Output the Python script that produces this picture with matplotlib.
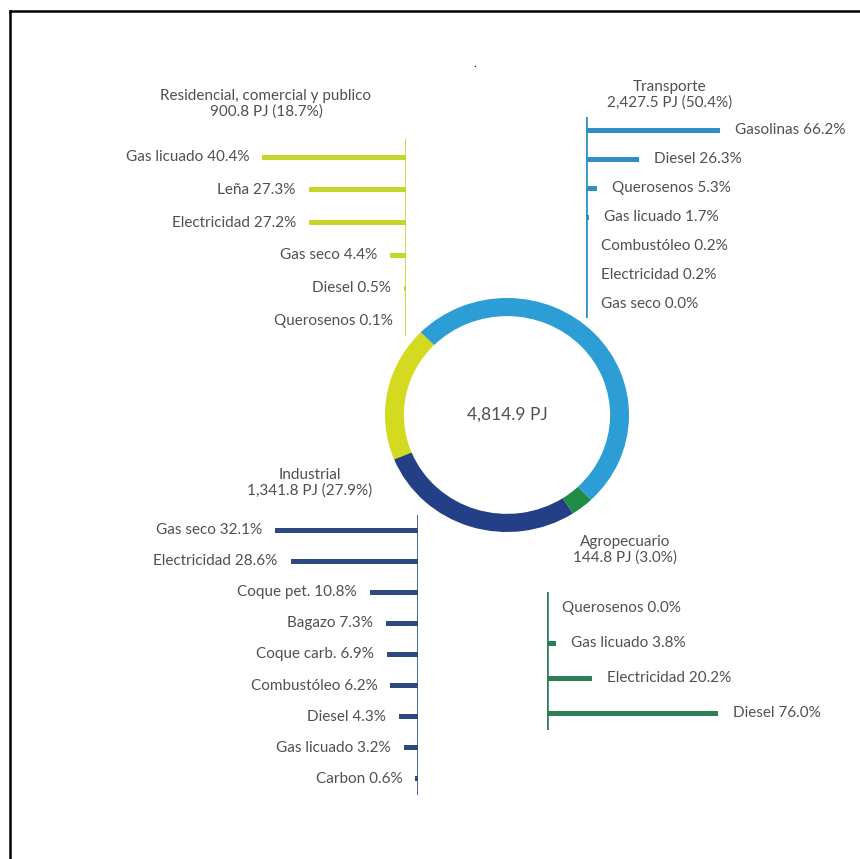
import matplotlib
matplotlib.use('Agg')
import matplotlib.pyplot as plt
from matplotlib.lines import Line2D

W, H = 860, 859

# Consumo final total por sector
total_pj = '4,814.9 PJ'
sectors = ['Residencial', 'Industrial', 'Agropecuario', 'Transporte']
sector_share = [18.7, 27.9, 3.0, 50.4]
ring_colors = ['#d3da1f', '#233f86', '#1f8b45', '#2d9dd5']

res_fuels = ['Gas licuado', 'Leña', 'Electricidad', 'Gas seco', 'Diesel', 'Querosenos']
res_values = [40.4, 27.3, 27.2, 4.4, 0.5, 0.1]

tra_fuels = ['Gasolinas', 'Diesel', 'Querosenos', 'Gas licuado', 'Combustóleo', 'Electricidad', 'Gas seco']
tra_values = [66.2, 26.3, 5.3, 1.7, 0.2, 0.2, 0.0]

ind_fuels = ['Gas seco', 'Electricidad', 'Coque pet.', 'Bagazo', 'Coque carb.', 'Combustóleo',
             'Diesel', 'Gas licuado', 'Carbon']
ind_values = [32.1, 28.6, 10.8, 7.3, 6.9, 6.2, 4.3, 3.2, 0.6]

agr_fuels = ['Querosenos', 'Gas licuado', 'Electricidad', 'Diesel']
agr_values = [0.0, 3.8, 20.2, 76.0]

TEXT = '#505050'
FS = 11
plt.rcParams['font.family'] = ['Lato', 'DejaVu Sans']


def px_box(x0, y0, x1, y1):
    # pixel box (top-left origin) -> figure fraction rect
    return [x0 / W, 1 - y1 / H, (x1 - x0) / W, (y1 - y0) / H]


def fuel_panel(fig, names, values, color, axis_x, side, ppp, row0, row_step, top, bottom):
    span = 220
    if side == 'left':
        ax = fig.add_axes(px_box(axis_x - span, top, axis_x, bottom))
        ax.set_xlim(span / ppp, 0)
    else:
        ax = fig.add_axes(px_box(axis_x, top, axis_x + span, bottom))
        ax.set_xlim(0, span / ppp)
    ax.set_ylim((bottom - row0) / row_step, (top - row0) / row_step)
    ax.axis('off')
    ax.patch.set_alpha(0)

    rows = list(range(len(values)))
    ax.barh(rows, values, height=5 / row_step, color=color, linewidth=0)
    ax.axvline(0, color=color, lw=1.9)

    for i, (name, val) in enumerate(zip(names, values)):
        dx = -13 if side == 'left' else 15
        ax.annotate(f'{name} {val:.1f}%', xy=(val, i), xytext=(dx, 0),
                    textcoords='offset pixels', ha='right' if side == 'left' else 'left',
                    va='center', fontsize=FS, color=TEXT)
    return ax


fig = plt.figure(figsize=(W / 100, H / 100), dpi=100)
fig.patch.set_facecolor('white')

# frame lines along top and left
fig.add_artist(Line2D([10 / W, 10 / W], [0, 1 - 11 / H], color='black', lw=1.8))
fig.add_artist(Line2D([10 / W, 1], [1 - 11 / H, 1 - 11 / H], color='black', lw=1.8))
fig.text(475 / W, 1 - 69 / H, '.', fontsize=8, color='black', ha='center', va='bottom')

# donut
cx, cy = 507, 415
ring = fig.add_axes(px_box(cx - 122, cy - 117, cx + 122, cy + 117))
ring.pie(sector_share, colors=ring_colors, startangle=135, counterclock=True,
         radius=1, wedgeprops=dict(width=0.155, linewidth=0))
ring.set_xlim(-1, 1)
ring.set_ylim(-1, 1)
ring.set_aspect('auto')
ring.text(0, 0, total_pj, ha='center', va='center', fontsize=12.5, color=TEXT)

fuel_panel(fig, res_fuels, res_values, '#c6d52a', 406, 'left', 3.56, 157, 32.8, 139, 336)
fuel_panel(fig, tra_fuels, tra_values, '#2f8ec7', 586, 'right', 2.03, 130, 29.0, 117, 318)
fuel_panel(fig, ind_fuels, ind_values, '#2c4a80', 418, 'left', 4.45, 530, 31.1, 515, 795)
fuel_panel(fig, agr_fuels, agr_values, '#2a7f55', 547, 'right', 2.25, 608, 35.0, 592, 730)

titles = [
    ('Residencial, comercial y publico\n900.8 PJ (18.7%)', 266, 104),
    ('Transporte\n2,427.5 PJ (50.4%)', 670, 95),
    ('Industrial\n1,341.8 PJ (27.9%)', 310, 483),
    ('Agropecuario\n144.8 PJ (3.0%)', 625, 550),
]
for txt, x, y in titles:
    fig.text(x / W, 1 - y / H, txt, ha='center', va='center', fontsize=FS,
             color=TEXT, linespacing=1.15)

fig.savefig('out.png', dpi=100)
